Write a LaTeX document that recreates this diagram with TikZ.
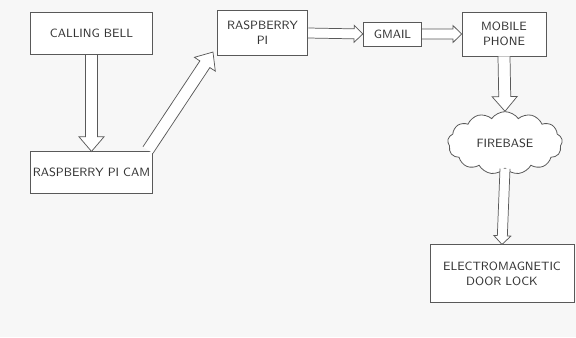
\documentclass[tikz,border=0pt]{standalone}
\usepackage{tikz}
\usetikzlibrary{calc,shapes.symbols}
\tikzset{
  blockbox/.style={draw=black!65, line width=0.6pt, fill=white,
    align=center, inner sep=2pt, text=black!80,
    font=\sffamily\fontsize{9}{11.5}\selectfont},
  arrowbody/.style n args={3}{to path={
    let \p1=(\tikztostart), \p2=(\tikztotarget),
        \n1={atan2(\y2-\y1,\x2-\x1)}, \n2={veclen(\x2-\x1,\y2-\y1)} in
    [shift={(\p1)}, rotate=\n1]
    (0pt,-#1) -- ({\n2-#3},-#1) -- ({\n2-#3},-#2) -- ({\n2*1pt},0pt)
    -- ({\n2-#3},#2) -- ({\n2-#3},#1) -- (0pt,#1) \tikztonodes}},
  hollowarrow/.style={draw=black!65, line width=0.55pt, fill=white,
    arrowbody={4.5pt}{9.4pt}{11pt}},
  thinarrow/.style={draw=black!65, line width=0.55pt, fill=white,
    arrowbody={3.75pt}{6.4pt}{6.5pt}}
}

\begin{document}
\begin{tikzpicture}[x=0.75pt, y=-0.75pt]
  \useasboundingbox[fill=black!3] (0,0) rectangle (576,337);

  \node[blockbox, minimum width=92pt, minimum height=32pt] (bell)
    at (91.5,33.5) {CALLING BELL};
  \node[blockbox, minimum width=92pt, minimum height=31pt] (cam)
    at (91.5,172.5) {RASPBERRY PI CAM};
  \node[blockbox, minimum width=68pt, minimum height=34pt] (rpi)
    at (262.5,33) {RASPBERRY\\PI};
  \node[blockbox, minimum width=44pt, minimum height=18pt] (gmail)
    at (392.5,34) {GMAIL};
  \node[blockbox, minimum width=63pt, minimum height=33pt] (mobile)
    at (504,34) {MOBILE\\PHONE};
  \node[cloud, cloud puffs=13, cloud puff arc=110, aspect=2,
    draw=black!65, line width=0.6pt, fill=white, text=black!80,
    font=\sffamily\fontsize{9}{11.5}\selectfont,
    minimum width=86pt, minimum height=47pt, inner sep=0pt] (fire)
    at (505,143) {FIREBASE};
  \node[blockbox, minimum width=108pt, minimum height=43pt] (lock)
    at (502,273.5) {ELECTROMAGNETIC\\DOOR LOCK};

  \coordinate (camout) at (148,150);
  \coordinate (rpiin) at (213,52);

  \draw[hollowarrow] (bell.south) to (cam.north);
  \draw[hollowarrow] (camout) to (rpiin);
  \draw[thinarrow] (rpi.east) to (gmail.west);
  \draw[thinarrow] (gmail.east) to (mobile.west);
  \draw[hollowarrow] (mobile.south) to (fire.north);
  \draw[thinarrow] (fire.south) to (lock.north);
\end{tikzpicture}
\end{document}
